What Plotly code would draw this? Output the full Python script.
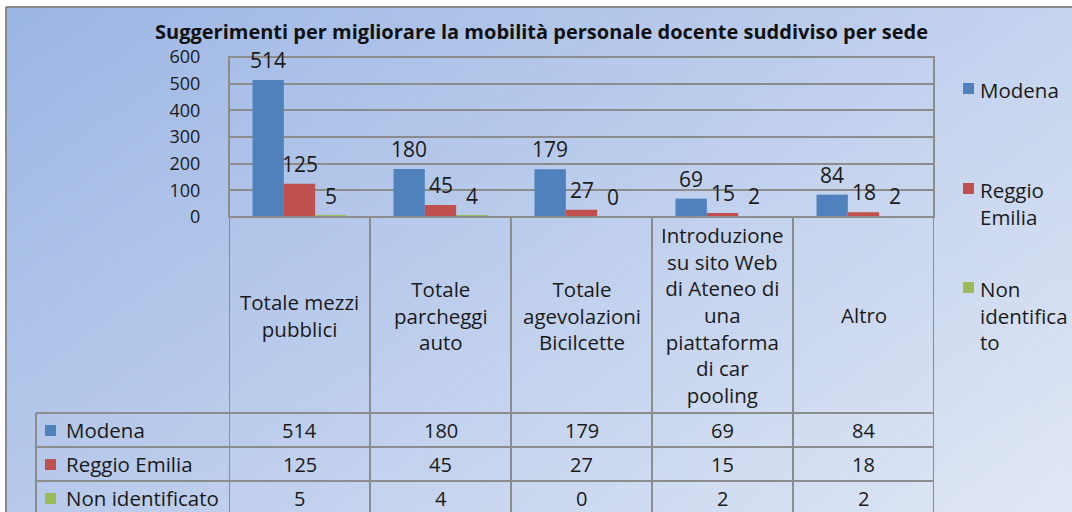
import zlib, struct, base64
import plotly.graph_objects as go

# ---------------- data ----------------
categories = ["Totale mezzi pubblici", "Totale parcheggi auto", "Totale agevolazioni Bicilcette",
              "Introduzione su sito Web di Ateneo di una piattaforma di car pooling", "Altro"]
category_labels = ["Totale mezzi<br>pubblici", "Totale<br>parcheggi<br>auto",
                   "Totale<br>agevolazioni<br>Bicilcette",
                   "Introduzione<br>su sito Web<br>di Ateneo di<br>una<br>piattaforma<br>di car<br>pooling",
                   "Altro"]
series_names = ["Modena", "Reggio Emilia", "Non identificato"]
legend_labels = ["Modena", "Reggio<br>Emilia", "Non<br>identifica<br>to"]
modena = [514, 180, 179, 69, 84]
reggio = [125, 45, 27, 15, 18]
non_ident = [5, 4, 0, 2, 2]
y_ticks = [0, 100, 200, 300, 400, 500, 600]
title = "Suggerimenti per migliorare la mobilità personale docente suddiviso per sede"

colors = ["#4F81BD", "#C0504D", "#9BBB59"]
series_values = [modena, reggio, non_ident]

W, H = 1072, 512
FONT = "Open Sans"
TXT = "#1a1a1a"


def px_x(p):
    return p / W


def px_y(p):
    return 1 - p / H


# ---------------- background gradient image ----------------
def gradient_png(w, h, c0, c1):
    raw = bytearray()
    for y in range(h):
        raw.append(0)
        for x in range(w):
            t = (x / (w - 1)) * 0.6 + (y / (h - 1)) * 0.4
            for k in range(3):
                raw.append(int(round(c0[k] + (c1[k] - c0[k]) * t)))

    def chunk(tag, data):
        c = struct.pack(">I", len(data)) + tag + data
        return c + struct.pack(">I", zlib.crc32(tag + data) & 0xffffffff)

    png = b"\x89PNG\r\n\x1a\n"
    png += chunk(b"IHDR", struct.pack(">IIBBBBB", w, h, 8, 2, 0, 0, 0))
    png += chunk(b"IDAT", zlib.compress(bytes(raw), 9))
    png += chunk(b"IEND", b"")
    return "data:image/png;base64," + base64.b64encode(png).decode()


bg = gradient_png(128, 64, (0x9C, 0xB6, 0xE4), (0xE0, 0xE7, 0xF5))

fig = go.Figure()
for name, vals, col in zip(series_names, series_values, colors):
    fig.add_trace(go.Bar(x=list(range(len(categories))), y=vals, name=name,
                         marker=dict(color=col, line=dict(width=0)),
                         hoverinfo="y+name"))

x0, x1 = 229, 934
y_top, y_bot = 57, 217
n = len(categories)
cat_w = (x1 - x0) / n
bar_w = cat_w / 4.5

annotations = []
# data labels
for si, vals in enumerate(series_values):
    for ci, v in enumerate(vals):
        annotations.append(dict(x=ci, y=v, xref="x", yref="y", text=str(v), showarrow=False,
                                xshift=(si - 1) * bar_w, yshift=20,
                                font=dict(family=FONT, size=21, color=TXT)))

# title
annotations.append(dict(x=px_x(541), y=px_y(31), xref="paper", yref="paper", text="<b>%s</b>" % title,
                        showarrow=False, font=dict(family=FONT, size=20, color="#111"),
                        xanchor="center", yanchor="middle"))

# category labels in table
for ci, lab in enumerate(category_labels):
    annotations.append(dict(x=ci, y=px_y(315), xref="x", yref="paper", text=lab, showarrow=False,
                            xanchor="center", yanchor="middle", align="center",
                            font=dict(family=FONT, size=20.5, color=TXT)))

row_centers = [430, 464, 498]
shapes = []
for si, (name, vals, col) in enumerate(zip(series_names, series_values, colors)):
    yc = row_centers[si]
    annotations.append(dict(x=px_x(64), y=px_y(yc), xref="paper", yref="paper", text=name,
                            showarrow=False, xanchor="left", yanchor="middle",
                            font=dict(family=FONT, size=20.5, color=TXT)))
    shapes.append(dict(type="rect", xref="paper", yref="paper",
                       x0=px_x(45), x1=px_x(56), y0=px_y(yc - 5), y1=px_y(yc + 6),
                       fillcolor=col, line=dict(width=0)))
    for ci, v in enumerate(vals):
        annotations.append(dict(x=ci, y=px_y(yc), xref="x", yref="paper", text=str(v),
                                showarrow=False, xanchor="center", yanchor="middle",
                                font=dict(family=FONT, size=20, color=TXT)))

# legend (right)
legend_tops = [74, 174, 273]
for lab, col, top in zip(legend_labels, colors, legend_tops):
    annotations.append(dict(x=px_x(978), y=px_y(top), xref="paper", yref="paper", text=lab,
                            showarrow=False, xanchor="left", yanchor="top", align="left",
                            font=dict(family=FONT, size=20.5, color=TXT)))
    shapes.append(dict(type="rect", xref="paper", yref="paper",
                       x0=px_x(963), x1=px_x(974), y0=px_y(top + 20), y1=px_y(top + 9),
                       fillcolor=col, line=dict(width=0)))

grid = "#8C8C8C"
# outer chart border (top & left)
shapes.append(dict(type="line", xref="paper", yref="paper", x0=px_x(6), x1=1, y0=px_y(7), y1=px_y(7),
                   line=dict(color="#8a8a8a", width=2)))
shapes.append(dict(type="line", xref="paper", yref="paper", x0=px_x(6), x1=px_x(6), y0=0, y1=px_y(7),
                   line=dict(color="#8a8a8a", width=2)))
# plot area border
shapes.append(dict(type="rect", xref="paper", yref="paper", x0=px_x(x0), x1=px_x(x1),
                   y0=px_y(y_bot), y1=px_y(y_top), line=dict(color=grid, width=2)))
# table vertical lines
for b in [i - 0.5 for i in range(n + 1)]:
    shapes.append(dict(type="line", xref="x", yref="paper", x0=b, x1=b, y0=0, y1=px_y(y_bot),
                       line=dict(color=grid, width=2)))
shapes.append(dict(type="line", xref="paper", yref="paper", x0=px_x(36), x1=px_x(36), y0=0,
                   y1=px_y(413), line=dict(color=grid, width=2)))
for yy in [413, 447, 481]:
    shapes.append(dict(type="line", xref="paper", yref="paper", x0=px_x(36), x1=px_x(x1),
                       y0=px_y(yy), y1=px_y(yy), line=dict(color=grid, width=2)))

fig.update_layout(
    width=W, height=H, margin=dict(l=0, r=0, t=0, b=0, pad=0, autoexpand=False),
    paper_bgcolor="white", plot_bgcolor="white",
    barmode="group", bargap=1.5 / 4.5, bargroupgap=0,
    showlegend=False,
    annotations=annotations, shapes=shapes,
    images=[dict(source=bg, xref="paper", yref="paper", x=px_x(6), y=px_y(7),
                 sizex=1 - px_x(6), sizey=px_y(7), sizing="stretch", layer="below",
                 xanchor="left", yanchor="top")],
    xaxis=dict(domain=[px_x(x0), px_x(x1)], range=[-0.5, n - 0.5], showticklabels=False,
               showgrid=False, zeroline=False, fixedrange=True, automargin=False),
    yaxis=dict(domain=[px_y(y_bot), px_y(y_top)], range=[0, 600], tickvals=y_ticks,
               showgrid=True, gridcolor=grid, gridwidth=2, zeroline=False,
               ticks="outside", ticklen=24, tickcolor="rgba(0,0,0,0)", automargin=False,
               tickfont=dict(family=FONT, size=18, color=TXT), fixedrange=True),
)

fig.write_html("out.html", config={"displayModeBar": False},
               post_script="document.body.style.margin='0';document.body.style.overflow='hidden';")
